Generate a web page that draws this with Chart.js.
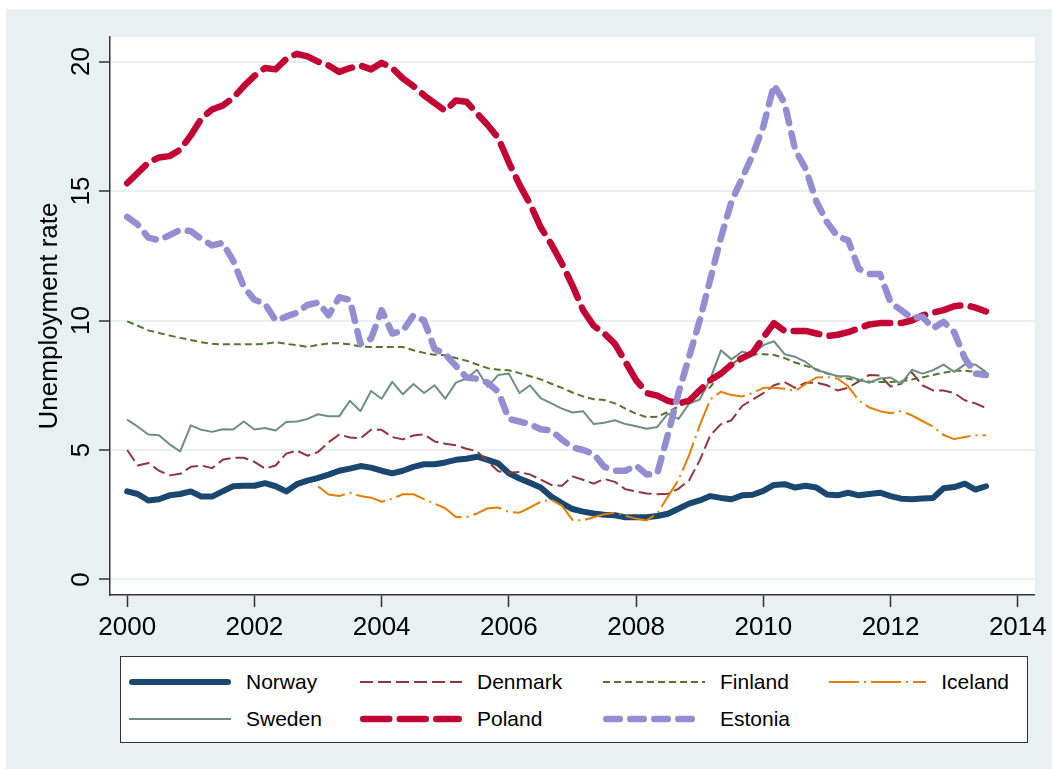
<!DOCTYPE html>
<html>
<head>
<meta charset="utf-8">
<script src="https://cdn.jsdelivr.net/npm/chart.js@4.4.1/dist/chart.umd.min.js"></script>
<style>
    body { margin: 0; background: #fff; font-family: 'Liberation Sans', Arial, sans-serif; }
    #bg { position: absolute; left: 6px; top: 9px; width: 1046px; height: 760px; background: #e8f0f2; }
    #chart { position: absolute; left: 0; top: 0; }
    #legend {
        position: absolute; left: 120px; top: 656px; width: 908px; height: 87px;
        box-sizing: border-box; border: 1.5px solid #333; background: #fff;
        display: grid; grid-template-columns: 231px 243px 226px 180px; grid-auto-rows: 37px;
        padding: 6px 0 0 8px;
    }
    .item { display: flex; align-items: center; font-size: 21px; color: #000; }
    .item svg { margin-right: 15px; }
</style>
</head>
<body>
<div id="bg"></div>
<canvas id="chart" width="1052" height="650"></canvas>
<div id="legend"></div>
<script>
// bimonthly observations, Jan 2000 .. Jul 2013
const years = [];
for (let k = 0; k < 82; k++) years.push(2000 + k / 6);

const xTicks = [2000, 2002, 2004, 2006, 2008, 2010, 2012, 2014];
const yTicks = [0, 5, 10, 15, 20];

const norway = [3.4,3.3,3.05,3.1,3.25,3.3, 3.4,3.2,3.2,3.4,3.6,3.62, 3.62,3.72,3.6,3.4,3.68,3.82,
    3.92,4.05,4.2,4.28,4.38,4.32, 4.2,4.1,4.2,4.35,4.45,4.45, 4.52,4.62,4.66,4.74,4.62,4.48,
    4.1,3.9,3.73,3.55,3.2,2.95, 2.72,2.62,2.55,2.5,2.48,2.4, 2.4,2.4,2.45,2.54,2.73,2.93,
    3.05,3.22,3.15,3.1,3.25,3.27, 3.42,3.65,3.68,3.55,3.62,3.55, 3.28,3.25,3.35,3.25,3.3,3.35,
    3.22,3.12,3.1,3.13,3.15,3.52, 3.57,3.7,3.47,3.6];
const denmark = [5.0,4.4,4.5,4.2,4.02,4.08, 4.35,4.4,4.3,4.62,4.7,4.7, 4.54,4.28,4.4,4.86,4.98,4.78,
    4.92,5.3,5.6,5.48,5.45,5.78, 5.78,5.5,5.41,5.56,5.6,5.33, 5.24,5.18,5.05,4.95,4.55,4.18,
    4.12,4.15,4.05,3.86,3.65,3.62, 3.98,3.85,3.7,3.88,3.77,3.48, 3.4,3.32,3.29,3.31,3.5,3.83,
    4.6,5.57,6.0,6.15,6.7,6.95, 7.2,7.5,7.62,7.4,7.6,7.6, 7.5,7.3,7.4,7.65,7.9,7.88,
    7.45,7.56,8.0,7.5,7.3,7.3, 7.2,6.92,6.8,6.62];
const finland = [9.97,9.8,9.62,9.52,9.42,9.33, 9.25,9.16,9.1,9.08,9.08,9.08, 9.08,9.1,9.16,9.1,9.05,8.98,
    9.06,9.12,9.12,9.08,9.0,8.98, 8.98,8.98,8.98,8.85,8.75,8.68, 8.66,8.55,8.45,8.3,8.16,8.1,
    8.08,7.97,7.85,7.73,7.56,7.4, 7.22,7.07,6.96,6.93,6.8,6.6, 6.4,6.27,6.28,6.47,6.68,6.9,
    7.2,7.43,7.97,8.3,8.6,8.69, 8.7,8.67,8.55,8.38,8.25,8.12, 7.95,7.86,7.75,7.69,7.65,7.63,
    7.63,7.65,7.72,7.8,7.9,7.98, 8.06,8.06,8.02,8.02];
const iceland = [null,null,null,null,null,null, null,null,null,null,null,null, null,null,null,null,null,null,
    3.6,3.28,3.22,3.35,3.22,3.16, 3.0,3.12,3.29,3.29,3.1,2.93, 2.75,2.41,2.41,2.55,2.75,2.78,
    2.6,2.58,2.78,3.0,3.08,2.85, 2.3,2.28,2.4,2.52,2.58,2.45, 2.35,2.28,2.55,3.2,3.85,4.8,
    5.95,6.95,7.25,7.12,7.07,7.2, 7.4,7.4,7.37,7.28,7.55,7.8, 7.82,7.76,7.46,6.92,6.64,6.5,
    6.42,6.5,6.34,6.12,5.9,5.58, 5.42,5.5,5.57,5.57];
const sweden = [6.17,5.9,5.6,5.57,5.22,4.95, 5.95,5.78,5.7,5.8,5.79,6.1, 5.79,5.85,5.75,6.08,6.1,6.2,
    6.38,6.3,6.3,6.9,6.5,7.28, 6.98,7.63,7.15,7.55,7.2,7.5, 6.98,7.6,7.76,8.1,7.44,7.9,
    7.95,7.2,7.5,7.0,6.8,6.6, 6.45,6.5,6.0,6.05,6.15,6.0, 5.92,5.82,5.89,6.4,6.2,6.79,
    6.95,7.75,8.85,8.5,8.8,8.7, 9.05,9.2,8.7,8.6,8.4,8.08, 7.98,7.85,7.85,7.72,7.6,7.76,
    7.8,7.55,8.1,7.95,8.08,8.3, 8.02,8.3,8.3,8.02];
const poland = [15.3,15.7,16.1,16.3,16.35,16.6, 17.15,17.8,18.15,18.3,18.6,19.05, 19.45,19.75,19.7,20.1,20.3,20.2,
    20.0,19.85,19.6,19.75,19.85,19.7, 19.95,19.75,19.35,19.05,18.7,18.4, 18.1,18.5,18.45,18.0,17.55,17.05,
    16.1,15.25,14.5,13.6,12.95,12.2, 11.35,10.4,9.8,9.5,9.1,8.4, 7.7,7.2,7.1,6.9,6.8,6.9,
    7.3,7.7,7.95,8.3,8.55,8.75, 9.35,9.9,9.6,9.6,9.6,9.5, 9.4,9.45,9.55,9.7,9.85,9.9,
    9.9,9.9,10.0,10.2,10.3,10.4, 10.55,10.6,10.5,10.35];
const estonia = [14.0,13.7,13.2,13.1,13.3,13.5, 13.45,13.15,12.9,13.0,12.3,11.3, 10.8,10.65,10.0,10.15,10.3,10.6,
    10.7,10.2,10.9,10.8,9.1,9.3, 10.4,9.5,9.6,10.2,10.0,8.9, 8.7,8.25,7.8,7.75,7.6,7.25,
    6.2,6.1,6.0,5.8,5.75,5.4, 5.1,5.0,4.85,4.35,4.2,4.2, 4.4,4.05,4.1,5.6,7.2,8.6,
    10.0,11.6,13.2,14.6,15.5,16.4, 17.5,19.1,18.4,16.6,15.85,14.6, 13.8,13.25,13.1,12.0,11.8,11.8,
    10.7,10.4,10.1,10.15,9.7,9.95, 9.55,8.55,7.95,7.9];

const FONT = "'Liberation Sans', Arial, sans-serif";

function series(label, values, color, width, dash, cap) {
    return {
        label: label,
        data: years.map((t, i) => ({ x: t, y: values[i] })),
        borderColor: color,
        borderWidth: width,
        borderDash: dash,
        borderCapStyle: cap,
        borderJoinStyle: 'round',
        fill: false
    };
}

let datasets = [
    series('Norway', norway, '#1a476f', 6, [], 'round'),
    series('Denmark', denmark, '#90353b', 2, [13, 5], 'butt'),
    series('Finland', finland, '#55752f', 2, [7, 4], 'butt'),
    series('Iceland', iceland, '#e37e00', 2, [30, 5, 2, 5], 'butt'),
    series('Sweden', sweden, '#6e8e84', 2, [], 'butt'),
    series('Poland', poland, '#c10534', 6.5, [26, 10.5], 'round'),
    series('Estonia', estonia, '#938dd2', 6.5, [13.5, 10.5], 'round')
];
// later series on top, like the original
datasets.forEach((d, i) => { d.order = datasets.length - i; });

const plotBackground = {
    id: 'plotBackground',
    beforeDraw(chart) {
        const { ctx, chartArea: a } = chart;
        ctx.save();
        ctx.fillStyle = '#fff';
        ctx.fillRect(a.left, a.top, a.right - a.left, a.bottom - a.top);
        ctx.restore();
    }
};

let ctx = document.getElementById('chart').getContext('2d');
let chart = new Chart(ctx, {
    type: 'line',
    data: { datasets: datasets },
    options: {
        responsive: false,
        animation: false,
        layout: { padding: { top: 37, right: 15, bottom: 0, left: 0 } },
        plugins: { legend: { display: false }, tooltip: { enabled: false } },
        elements: { point: { radius: 0 }, line: { tension: 0 } },
        scales: {
            x: {
                type: 'linear', min: 1999.73, max: 2014.27,
                afterBuildTicks: s => { s.ticks = xTicks.map(v => ({ value: v })); },
                afterFit: s => { s.height = 55; },
                grid: { drawOnChartArea: false, tickLength: 12, tickColor: '#333', tickWidth: 1.5 },
                border: { color: '#333', width: 1.5 },
                ticks: { font: { family: FONT, size: 26 }, color: '#000', padding: 5,
                         maxRotation: 0, autoSkip: false, callback: v => String(v) }
            },
            y: {
                min: -0.6, max: 20.95,
                afterBuildTicks: s => { s.ticks = yTicks.map(v => ({ value: v })); },
                afterFit: s => { s.width = 110; },
                grid: { color: '#e8f0f2', lineWidth: 2, tickLength: 11, tickColor: '#333', tickWidth: 1.5 },
                border: { color: '#333', width: 1.5 },
                ticks: { font: { family: FONT, size: 26 }, color: '#000', padding: 3,
                         minRotation: 90, maxRotation: 90, crossAlign: 'center' },
                title: { display: true, text: 'Unemployment rate', color: '#000',
                         font: { family: FONT, size: 26 }, padding: { top: 34, bottom: 0 } }
            }
        }
    },
    plugins: [plotBackground]
});

// legend built from the datasets, laid out in a 4-column grid
const legend = document.getElementById('legend');
chart.data.datasets.forEach(ds => {
    const w = ds.borderWidth;
    const inset = ds.borderCapStyle === 'round' ? w / 2 : 0;
    const item = document.createElement('div');
    item.className = 'item';
    item.innerHTML =
        '<svg width="102" height="12"><line x1="' + inset + '" y1="6" x2="' + (102 - inset) + '" y2="6" stroke="' +
        ds.borderColor + '" stroke-width="' + w + '" stroke-linecap="' + ds.borderCapStyle +
        '" stroke-dasharray="' + (ds.borderDash.length ? ds.borderDash.join(' ') : 'none') + '"/></svg>' +
        '<span>' + ds.label + '</span>';
    legend.appendChild(item);
});
</script>
</body>
</html>
